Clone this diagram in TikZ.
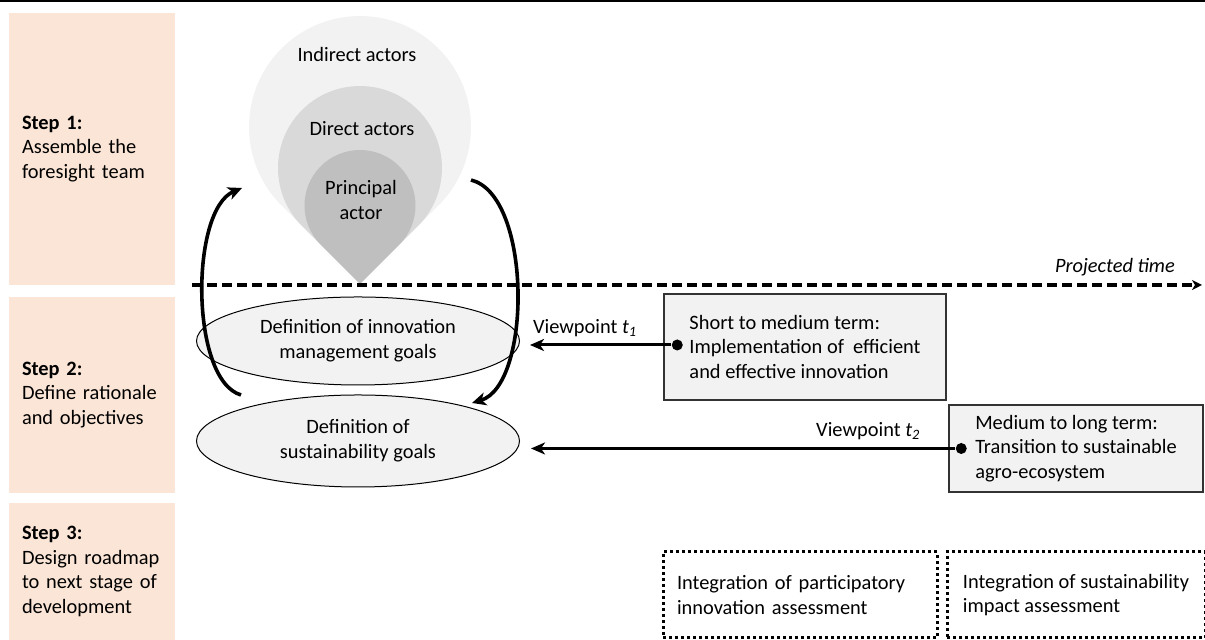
\documentclass[tikz,border=0pt]{standalone}
\usepackage{fontspec}
\setmainfont{Carlito}
\usetikzlibrary{arrows, arrows.meta, positioning, shapes.geometric}
\definecolor{stepfill}{HTML}{FBE5D6}
\definecolor{greyA}{HTML}{F2F2F2}
\definecolor{greyB}{HTML}{D9D9D9}
\definecolor{greyC}{HTML}{BFBFBF}

\begin{document}
\begin{tikzpicture}[x=0.5pt,y=0.5pt]
\fontsize{10.2}{12.3}\selectfont

\tikzset{stepbox/.style = {shape=rectangle,fill=stepfill,minimum width=83pt,text width=70pt,inner xsep=6.5pt,align=left}}
\tikzset{goal/.style = {shape=ellipse,draw,line width=0.5pt,fill=greyA,minimum width=161.5pt,inner sep=0pt,align=center}}
\tikzset{term/.style = {shape=rectangle,draw=black!80,line width=0.75pt,fill=greyA,align=left,inner sep=0pt}}
\tikzset{assess/.style = {shape=rectangle,draw,line width=1.5pt,dash pattern=on 1.5pt off 1.5pt,minimum height=43pt,align=left}}
\tikzset{feedback/.style = {line width=1.8pt,-{Stealth[length=7pt,width=6.5pt,inset=2pt]}}}
\tikzset{view/.style = {line width=1.5pt,-{Stealth[length=7pt,width=6pt,inset=2pt]}}}
\tikzset{vdot/.style = {shape=circle,fill,inner sep=0pt,minimum size=5.5pt}}
\tikzset{timeline/.style = {line width=1.75pt,dash pattern=on 5pt off 2.5pt,-{Stealth[length=5pt,width=5pt,inset=1.5pt]}}}

\useasboundingbox (0,0) rectangle (1205,640);
\draw[line width=1pt] (0,639) -- (1205,639);

% steps
\node[stepbox,minimum height=136pt] (step1) at (92,491) {\textbf{Step 1:}\\Assemble the\\foresight team};
\node[stepbox,minimum height=98pt] (step2) at (92,245) {\textbf{Step 2:}\\Define rationale\\and objectives};
\node[stepbox,minimum height=68.5pt] (step3) at (92,68.5) {\textbf{Step 3:}\\Design roadmap\\to next stage of\\development};

% actors
\coordinate (tip) at (360,356);
\foreach \rad/\shade in {111/greyA, 82/greyB, 55.5/greyC}
  \fill[\shade] (tip) -- ++(135:\rad) arc[start angle=225, end angle=-45, radius=\rad] -- cycle;
\node (indirect) at (357,585) {Indirect actors};
\node (direct) at (362,511) {Direct actors};
\node[align=center] (principal) at (361,440) {Principal\\actor};

% time axis
\coordinate (tstart) at (192,355);
\coordinate (tend) at (1202,355);
\draw[timeline] (tstart) -- (tend);
\node[anchor=east,font=\itshape] (ptime) at (1182,373) {Projected time};

% goals
\node[goal,minimum height=44pt] (innov) at (358,299) {Definition of innovation\\management goals};
\node[goal,minimum height=46pt] (sust) at (358,199) {Definition of\\sustainability goals};

\coordinate (fbL0) at (241,245);
\coordinate (fbL1) at (242,452);
\coordinate (fbR0) at (471,460);
\coordinate (fbR1) at (472,237);
\draw[feedback] (fbL0) .. controls (190,260) and (190,430) .. (fbL1);
\draw[feedback] (fbR0) .. controls (532,445) and (532,255) .. (fbR1);

% viewpoints
\node[term,minimum width=141pt,minimum height=53pt] (short) at (805,293) {Short to medium term:\\Implementation of\ \ efficient\\and effective innovation};
\node[term,minimum width=127pt,minimum height=43.5pt] (medium) at (1076,191.5) {Medium to long term:\\Transition to sustainable\\agro-ecosystem};
\node[vdot] (dot1) at ([xshift=7pt,yshift=1pt]short.west) {};
\node[vdot] (dot2) at ([xshift=6.5pt]medium.west) {};
\path (dot1) edge[view,shorten >=5pt] node[above,pos=0.57] {Viewpoint \textit{t}\textsubscript{\textit{1}}} (dot1 -| innov.east);
\path (dot2) edge[view,shorten >=5.5pt] node[above,pos=0.2] {Viewpoint \textit{t}\textsubscript{\textit{2}}} (dot2 -| sust.east);

% assessments
\node[assess,text width=123pt,inner xsep=7pt] (partic) at (800,45) {Integration of participatory\\innovation assessment};
\node[assess,minimum width=129pt] (impact) at (1076,45) {Integration of sustainability\\impact assessment};
\end{tikzpicture}
\end{document}
